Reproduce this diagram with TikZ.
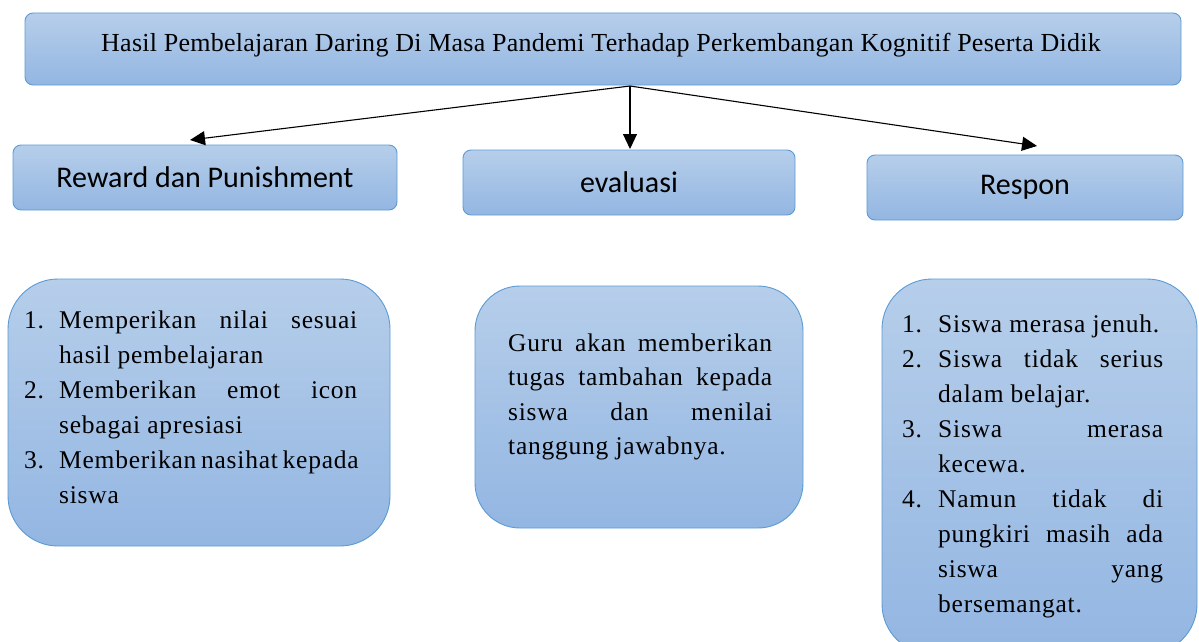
\documentclass[tikz,border=0pt]{standalone}
\usepackage{fontspec}
\setmainfont{Liberation Serif}
\newfontfamily\headfont[LetterSpace=1]{Liberation Serif}
\newfontfamily\bodyfont[LetterSpace=3]{Liberation Serif}
\newfontfamily\labelfont{Carlito}
\usetikzlibrary{arrows.meta}
\definecolor{boxtop}{HTML}{B6CEEA}
\definecolor{boxbot}{HTML}{93B6E2}
\definecolor{boxline}{HTML}{5B9BD5}
% a line of text stretched to a given width
\newcommand\jline[2]{\makebox[#1][s]{#2}}
\begin{document}
\begin{tikzpicture}[x=1pt,y=-1pt,
  panel/.style={draw=boxline, line width=0.9pt, top color=boxtop, bottom color=boxbot,
    rounded corners=#1, inner sep=0pt},
  panel/.default=8pt,
  heading/.style={font=\labelfont\fontsize{30}{32}\selectfont},
  bodytext/.style={anchor=base west, inner sep=0pt, font=\bodyfont\fontsize{25.5}{30}\selectfont},
  arr/.style={line width=1.1pt, -{Triangle[length=15pt,width=14pt]}}]
\useasboundingbox (0,0) rectangle (1199,642);

% title
\node[panel, minimum width=1156pt, minimum height=72pt] (title) at (603,49) {};
\node[anchor=base west, inner sep=0pt, font=\headfont\fontsize{26}{30}\selectfont] (titletext) at (101,52)
  {Hasil Pembelajaran Daring Di Masa Pandemi Terhadap Perkembangan Kognitif Peserta Didik};

% category boxes
\node[panel, heading, minimum width=384pt, minimum height=65pt] (reward) at (205,177.5) {Reward dan Punishment};
\node[panel, heading, minimum width=332pt, minimum height=65pt] (evaluasi) at (629,182.5) {evaluasi};
\node[panel, heading, minimum width=316pt, minimum height=65pt] (respon) at (1025,187.5) {Respon};

% connectors
\coordinate (hub) at (630,86);
\coordinate (tipL) at (190,140);
\coordinate (tipM) at (630,149);
\coordinate (tipR) at (1037,146);
\draw[arr] (hub) -- (tipL);
\draw[arr] (hub) -- (tipM);
\draw[arr] (hub) -- (tipR);

% detail boxes
\node[panel=50pt, minimum width=382pt, minimum height=267pt] (detailL) at (199,412.5) {};
\node[panel=45pt, minimum width=328pt, minimum height=242pt] (detailM) at (639,407) {};
\node[panel=50pt, minimum width=315pt, minimum height=375pt] (detailR) at (1039.5,466.5) {};

% left list
\node[bodytext] (l1n) at (24,328) {1.};
\node[bodytext] (l1a) at (59,328) {\jline{298pt}{Memperikan nilai sesuai}};
\node[bodytext] (l1b) at (59,363) {hasil pembelajaran};
\node[bodytext] (l2n) at (24,398) {2.};
\node[bodytext] (l2a) at (59,398) {\jline{298pt}{Memberikan emot icon}};
\node[bodytext] (l2b) at (59,433) {sebagai apresiasi};
\node[bodytext] (l3n) at (24,468) {3.};
\node[bodytext] (l3a) at (59,468) {\jline{298pt}{Memberikan nasihat kepada}};
\node[bodytext] (l3b) at (59,503) {siswa};

% middle paragraph
\node[bodytext] (m1) at (508,351) {\jline{264pt}{Guru akan memberikan}};
\node[bodytext] (m2) at (508,385.5) {\jline{264pt}{tugas tambahan kepada}};
\node[bodytext] (m3) at (508,420) {\jline{264pt}{siswa dan menilai}};
\node[bodytext] (m4) at (508,454.5) {tanggung jawabnya.};

% right list
\node[bodytext] (r1n) at (902,332) {1.};
\node[bodytext] (r1a) at (938,332) {Siswa merasa jenuh.};
\node[bodytext] (r2n) at (902,367) {2.};
\node[bodytext] (r2a) at (938,367) {\jline{225pt}{Siswa tidak serius}};
\node[bodytext] (r2b) at (938,402) {dalam belajar.};
\node[bodytext] (r3n) at (902,437) {3.};
\node[bodytext] (r3a) at (938,437) {\jline{225pt}{Siswa merasa}};
\node[bodytext] (r3b) at (938,472) {kecewa.};
\node[bodytext] (r4n) at (902,507) {4.};
\node[bodytext] (r4a) at (938,507) {\jline{225pt}{Namun tidak di}};
\node[bodytext] (r4b) at (938,542) {\jline{225pt}{pungkiri masih ada}};
\node[bodytext] (r4c) at (938,577) {\jline{225pt}{siswa yang}};
\node[bodytext] (r4d) at (938,612) {bersemangat.};
\end{tikzpicture}
\end{document}
